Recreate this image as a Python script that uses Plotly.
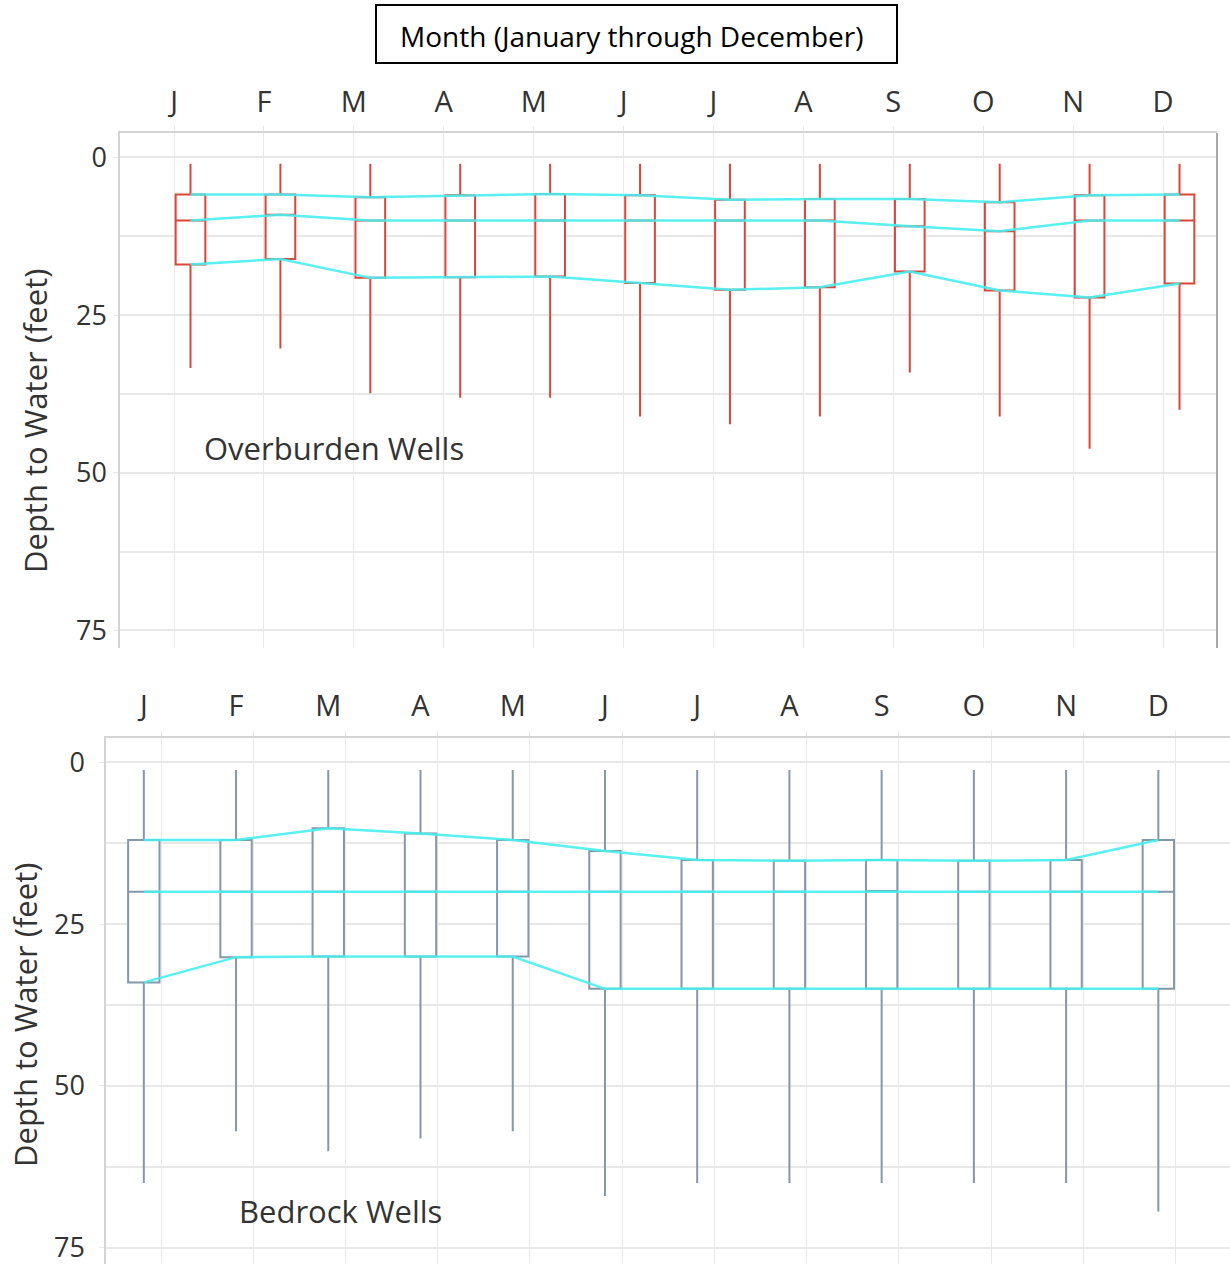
import plotly.graph_objects as go

# Month letters along the top axis
months = ["J", "F", "M", "A", "M", "J", "J", "A", "S", "O", "N", "D"]

# Overburden wells: depth to water (feet) per month
ob_min = [1.0, 1.0, 1.0, 1.0, 1.0, 1.0, 1.0, 1.0, 1.0, 1.0, 1.0, 1.0]
ob_q1 = [5.9, 5.9, 6.3, 6.0, 5.8, 6.0, 6.7, 6.6, 6.6, 7.1, 6.0, 5.9]
ob_med = [10.0, 9.1, 10.0, 10.0, 10.0, 10.0, 10.0, 10.0, 10.9, 11.7, 10.0, 10.0]
ob_q3 = [17.0, 16.1, 19.1, 19.0, 18.9, 19.9, 21.0, 20.6, 18.1, 21.1, 22.2, 20.0]
ob_max = [33.4, 30.3, 37.4, 38.1, 38.1, 41.1, 42.3, 41.1, 34.1, 41.1, 46.2, 40.0]

# Bedrock wells: depth to water (feet) per month
br_min = [1.2, 1.2, 1.2, 1.2, 1.2, 1.2, 1.2, 1.2, 1.2, 1.2, 1.2, 1.2]
br_q1 = [12.0, 12.0, 10.2, 11.0, 12.0, 13.7, 15.1, 15.2, 15.1, 15.2, 15.1, 12.0]
br_med = [20.0, 20.0, 20.0, 20.0, 20.0, 20.0, 20.0, 20.0, 19.9, 20.0, 20.0, 20.0]
br_q3 = [34.0, 30.1, 30.0, 30.0, 30.0, 35.0, 35.0, 35.0, 35.0, 35.0, 35.0, 35.0]
br_max = [65.0, 57.0, 60.1, 58.1, 57.0, 67.0, 65.0, 65.0, 65.0, 65.0, 65.0, 69.4]

W, H = 1230, 1264
FONT = "Open Sans"
TXT = "#333333"
RED = "#d9473b"
STEEL = "#8398a8"
CYAN = "rgba(70,238,240,0.9)"
GRID = "#e8e8e8"

OB_OFF, BR_OFF = 0.183, -0.187


def px_x(p):
    return p / W


def px_y(p):
    return 1 - p / H


fig = go.Figure()

pos = list(range(1, len(months) + 1))
panels = [
    (ob_min, ob_q1, ob_med, ob_q3, ob_max, RED, OB_OFF, 0.33, "x", "y"),
    (br_min, br_q1, br_med, br_q3, br_max, STEEL, BR_OFF, 0.34, "x2", "y2"),
]

for lo, q1, med, q3, hi, col, off, bw, xa, ya in panels:
    xs = [p + off for p in pos]
    fig.add_trace(go.Box(
        x=xs, q1=q1, median=med, q3=q3, lowerfence=lo, upperfence=hi,
        width=bw, whiskerwidth=0, fillcolor="white",
        line=dict(color=col, width=2), boxpoints=False,
        xaxis=xa, yaxis=ya, showlegend=False, hoverinfo="skip",
    ))
    for series in (q1, med, q3):
        fig.add_trace(go.Scatter(
            x=xs, y=series, mode="lines",
            line=dict(color=CYAN, width=2.5),
            xaxis=xa, yaxis=ya, showlegend=False, hoverinfo="skip",
        ))

xfont = dict(family=FONT, size=29, color=TXT)
yfont = dict(family=FONT, size=27, color=TXT)

ycommon = dict(
    tickmode="array", tickvals=[0, 25, 50, 75],
    showgrid=True, gridcolor=GRID, gridwidth=1.5,
    minor=dict(tickmode="array", tickvals=[12.5, 37.5, 62.5], showgrid=True,
               gridcolor=GRID, gridwidth=1.5, ticks=""),
    ticks="outside", ticklen=5, tickcolor=GRID,
    showline=True, linecolor="#d4d4d4", linewidth=1.5,
    tickfont=yfont, zeroline=False, ticklabeloverflow="allow",
)

fig.update_layout(
    width=W, height=H,
    margin=dict(l=0, r=0, t=0, b=0),
    paper_bgcolor="white", plot_bgcolor="white",
    # upper panel: labels sit on the grid lines, boxes right of them
    xaxis=dict(
        tickmode="array", tickvals=pos, ticktext=months, side="top",
        showgrid=True, gridcolor=GRID, gridwidth=1,
        ticks="outside", ticklen=5, tickcolor=GRID,
        showline=True, linecolor="#d4d4d4", linewidth=1.5,
        tickfont=xfont, zeroline=False, ticklabelstandoff=3,
        domain=[px_x(120), px_x(1217)], range=[0.399, 12.60], anchor="y",
    ),
    yaxis=dict(ycommon, domain=[px_y(648), px_y(133)], range=[77.8, -3.87],
               anchor="x", ticklabelstandoff=1),
    # lower panel: labels sit over the boxes, grid lines right of them
    xaxis2=dict(
        tickmode="array", tickvals=[p + BR_OFF for p in pos], ticktext=months,
        side="top", showgrid=False, ticks="",
        minor=dict(tickmode="array", tickvals=pos, showgrid=True,
                   gridcolor=GRID, gridwidth=1, ticks="outside", ticklen=5,
                   tickcolor=GRID),
        showline=True, linecolor="#d4d4d4", linewidth=1.5,
        tickfont=xfont, zeroline=False, ticklabelstandoff=8,
        domain=[px_x(106), 1.0], range=[0.403, 12.59], anchor="y2",
    ),
    yaxis2=dict(ycommon, domain=[0.0, px_y(737.7)], range=[77.5, -3.8],
                anchor="x2", ticklabelstandoff=9),
)

# darker right edge of the upper panel
fig.add_shape(type="line", xref="paper", yref="paper",
              x0=px_x(1217), x1=px_x(1217), y0=px_y(648), y1=px_y(133),
              line=dict(color="#a8a8a8", width=2))

# boxed heading
fig.add_shape(type="rect", xref="paper", yref="paper",
              x0=px_x(376), x1=px_x(897), y0=px_y(63), y1=px_y(5),
              line=dict(color="black", width=2), fillcolor="white")


def label(text, x, y, size, color=TXT, angle=0):
    fig.add_annotation(text=text, xref="paper", yref="paper",
                       x=px_x(x), y=px_y(y), xanchor="center", yanchor="middle",
                       textangle=angle, showarrow=False,
                       font=dict(family=FONT, size=size, color=color))


label("Month (January through December)", 632, 36, 28, color="black")
label("Depth to Water (feet)", 35, 421, 31, angle=-90)
label("Depth to Water (feet)", 25, 1015, 31, angle=-90)
label("Overburden Wells", 334, 448, 31)
label("Bedrock Wells", 340, 1211, 31)

fig.write_html("out.html")
